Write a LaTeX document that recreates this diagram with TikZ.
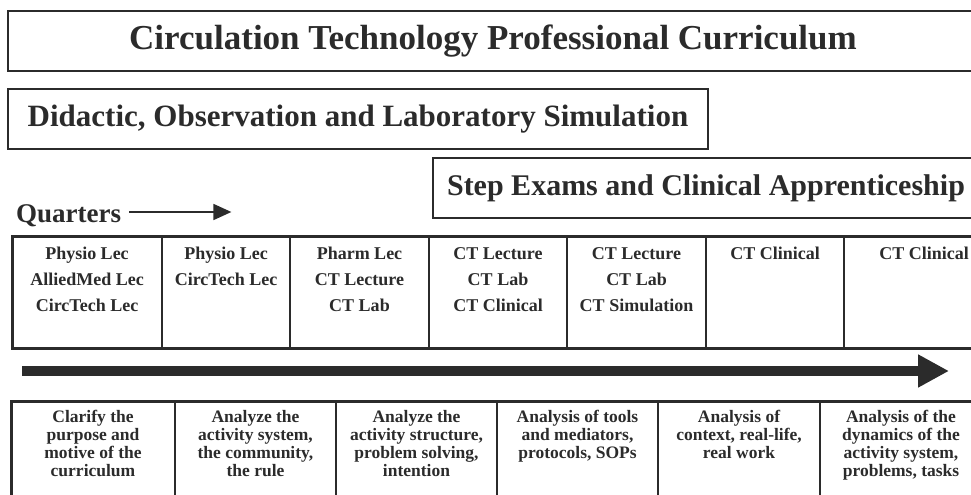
\documentclass[tikz,border=0pt]{standalone}
\usepackage{fontspec}
\setmainfont{Liberation Serif}
\usetikzlibrary{positioning,arrows.meta}
\definecolor{ink}{HTML}{2B2B2B}

\begin{document}
\begin{tikzpicture}[
  x=1bp, y=-1bp,
  every node/.style={text=ink},
  banner/.style={draw=ink, line width=2.6bp, minimum height=60bp, inner sep=0pt, outer sep=0pt},
  cell/.style={draw=ink, line width=2bp, inner sep=0pt, outer sep=0pt},
  qcell/.style={cell, minimum height=111bp},
  acell/.style={cell, minimum height=110bp},
  qtext/.style={align=center, inner sep=0pt, font=\bfseries\fontsize{18bp}{26bp}\selectfont},
  atext/.style={align=center, inner sep=0pt, font=\bfseries\fontsize{17.5bp}{18bp}\selectfont},
  frameline/.style={draw=ink, line width=3bp},
  timeline/.style={-{Triangle[length=31bp,width=31bp]}, line width=10bp, draw=ink, fill=ink},
  qarrow/.style={-{Triangle[length=18bp,width=16bp]}, line width=1.8bp, draw=ink}
]
\useasboundingbox (0,0) rectangle (971,495);
\clip (0,0) rectangle (971,495);

% banners
\node[banner, anchor=north west, minimum width=970bp, font=\bfseries\fontsize{35bp}{40bp}\selectfont] (title) at (8,11) {Circulation Technology Professional Curriculum};
\node[banner, anchor=north west, minimum width=700bp, font=\bfseries\fontsize{31bp}{36bp}\selectfont] (didactic) at (8,89) {Didactic, Observation and Laboratory Simulation};
\node[banner, anchor=north west, minimum width=546bp, font=\bfseries\fontsize{30bp}{34bp}\selectfont] (step) at (433,158) {Step Exams and Clinical Apprenticeship};

% quarters label
\node[anchor=west, inner sep=0pt, font=\bfseries\fontsize{27bp}{30bp}\selectfont] (quarters) at (16,216) {Quarters};
\coordinate (qend) at ([xshift=110bp,yshift=4bp]quarters.east);
\draw[qarrow] ([xshift=8bp,yshift=4bp]quarters.east) -- (qend);

% quarter cells
\node[qcell, anchor=north west, minimum width=150bp] (q1) at (12,237) {};
\node[qcell, right=0bp of q1, minimum width=128bp] (q2) {};
\node[qcell, right=0bp of q2, minimum width=139bp] (q3) {};
\node[qcell, right=0bp of q3, minimum width=138bp] (q4) {};
\node[qcell, right=0bp of q4, minimum width=139bp] (q5) {};
\node[qcell, right=0bp of q5, minimum width=138bp] (q6) {};
\node[qcell, right=0bp of q6, minimum width=160bp] (q7) {};
\draw[frameline] (q1.south west) rectangle (q7.north east);

\node[qtext, below=10bp of q1.north] (q1t) {Physio Lec\\AlliedMed Lec\\CircTech Lec};
\node[qtext, below=10bp of q2.north] (q2t) {Physio Lec\\CircTech Lec};
\node[qtext, below=10bp of q3.north] (q3t) {Pharm Lec\\CT Lecture\\CT Lab};
\node[qtext, below=10bp of q4.north] (q4t) {CT Lecture\\CT Lab\\CT Clinical};
\node[qtext, below=10bp of q5.north] (q5t) {CT Lecture\\CT Lab\\CT Simulation};
\node[qtext, below=10bp of q6.north] (q6t) {CT Clinical};
\node[qtext, below=10bp of q7.north] (q7t) {CT Clinical};

% timeline
\coordinate (tstart) at (22,371);
\coordinate (tend) at (949,371);
\draw[timeline] (tstart) -- (tend);

% activity analysis cells
\node[acell, anchor=north west, minimum width=164bp] (a1) at (11,401) {};
\node[acell, right=0bp of a1, minimum width=161bp] (a2) {};
\node[acell, right=0bp of a2, minimum width=161bp] (a3) {};
\node[acell, right=0bp of a3, minimum width=161bp] (a4) {};
\node[acell, right=0bp of a4, minimum width=162bp] (a5) {};
\node[acell, right=0bp of a5, minimum width=162bp] (a6) {};
\draw[frameline] (a1.south west) rectangle (a6.north east);

\node[atext, below=9bp of a1.north] (a1t) {Clarify the\\purpose and\\motive of the\\curriculum};
\node[atext, below=9bp of a2.north] (a2t) {Analyze the\\activity system,\\the community,\\the rule};
\node[atext, below=9bp of a3.north] (a3t) {Analyze the\\activity structure,\\problem solving,\\intention};
\node[atext, below=9bp of a4.north] (a4t) {Analysis of tools\\and mediators,\\protocols, SOPs};
\node[atext, below=9bp of a5.north] (a5t) {Analysis of\\context, real-life,\\real work};
\node[atext, below=9bp of a6.north] (a6t) {Analysis of the\\dynamics of the\\activity system,\\problems, tasks};
\end{tikzpicture}
\end{document}
